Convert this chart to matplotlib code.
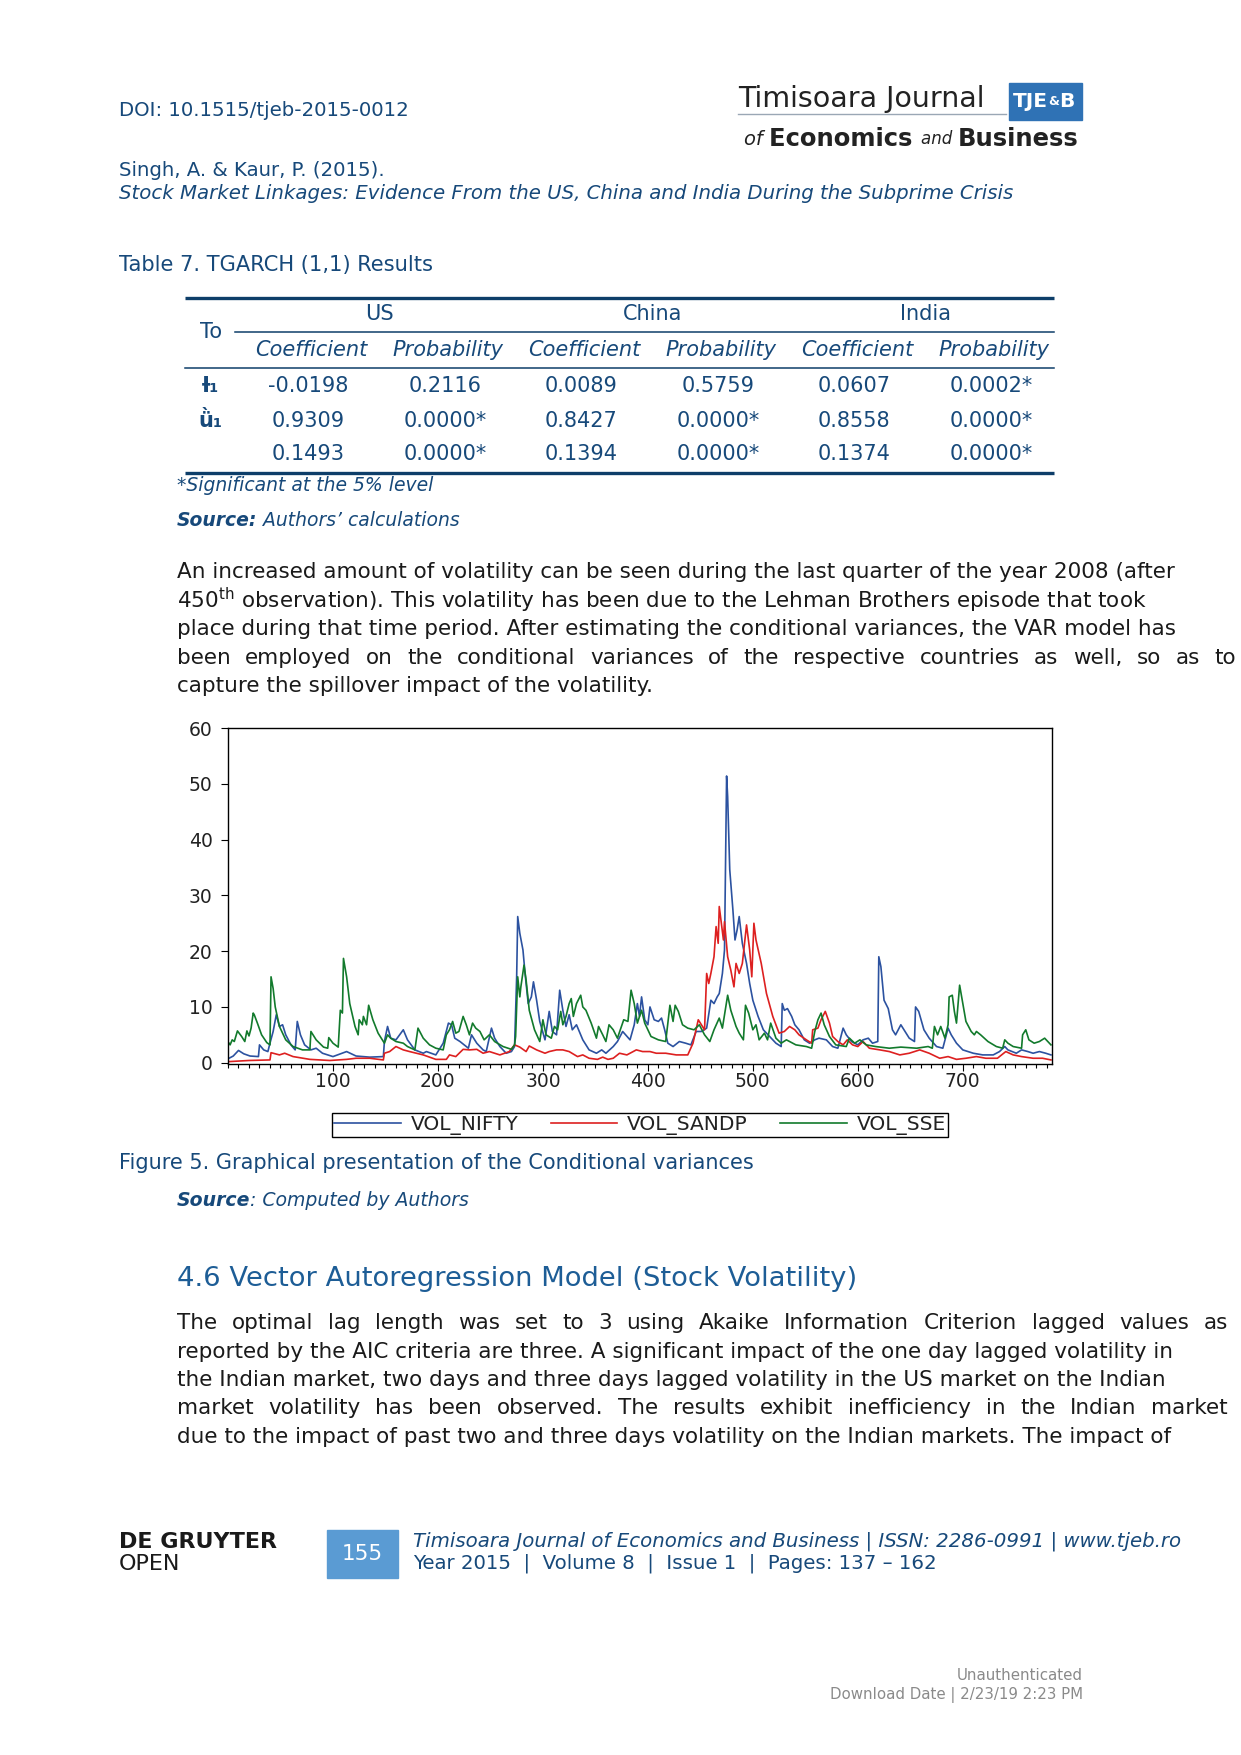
import matplotlib
matplotlib.use("Agg")
import matplotlib.pyplot as plt
from matplotlib.patches import Rectangle
from matplotlib.ticker import MultipleLocator
from matplotlib import font_manager

# ------------------- PAGE CONFIG -------------------
W, H = 1241, 1755
NAVY = '#17497a'
HEAD_BLUE = '#1d5d96'
available = {f.name for f in font_manager.fontManager.ttflist}
NARROW = 'Liberation Sans Narrow' if 'Liberation Sans Narrow' in available else 'DejaVu Sans'

# ------------------- TABLE DATA -------------------
countries = ['US', 'China', 'India']
sub_headers = ['Coefficient', 'Probability'] * 3
row_labels = ['Ɨ₁', 'ǜ₁', '']
table_rows = [
    ['-0.0198', '0.2116', '0.0089', '0.5759', '0.0607', '0.0002*'],
    ['0.9309', '0.0000*', '0.8427', '0.0000*', '0.8558', '0.0000*'],
    ['0.1493', '0.0000*', '0.1394', '0.0000*', '0.1374', '0.0000*'],
]

# ------------------- CHART DATA -------------------
nifty_obs = [1, 5, 10, 15, 21, 29, 30, 34, 38, 40, 43, 46, 49, 52, 55, 60, 64, 66, 69, 73,
             79, 84, 90, 100, 113, 122, 135, 148, 149, 152, 155, 160, 167, 171, 178, 186, 189, 198, 205, 210,
             213, 216, 221, 225, 229, 232, 237, 243, 246, 251, 254, 259, 265, 270, 273, 275, 276, 278, 281, 283,
             286, 289, 291, 294, 297, 302, 306, 309, 313, 316, 319, 322, 325, 328, 332, 338, 344, 351, 356, 360,
             367, 371, 376, 383, 387, 390, 392, 394, 397, 400, 402, 406, 410, 413, 416, 419, 424, 430, 436, 441,
             446, 451, 456, 460, 463, 466, 468, 471, 473, 475, 476, 478, 481, 483, 485, 487, 490, 494, 497, 500,
             505, 510, 516, 522, 527, 528, 530, 533, 537, 540, 544, 549, 554, 559, 563, 570, 576, 581, 586, 589,
             594, 600, 605, 610, 614, 619, 620, 622, 625, 629, 633, 636, 641, 644, 649, 654, 655, 658, 663, 668,
             675, 681, 686, 689, 694, 700, 710, 719, 729, 735, 740, 743, 751, 756, 762, 767, 773, 779, 784]
nifty_vals = [0.8, 1.2, 2.2, 1.6, 1.2, 1.1, 3.2, 2.3, 2.0, 3.5, 5.6, 8.6, 6.5, 6.8, 5.0, 3.2, 2.3, 7.4, 5.0, 3.2,
              2.3, 2.6, 1.7, 1.1, 2.0, 1.2, 1.0, 1.1, 3.8, 6.5, 4.4, 4.1, 5.9, 4.1, 2.3, 1.7, 2.0, 1.4, 3.5, 7.1,
              6.8, 4.4, 3.8, 3.2, 2.6, 5.0, 3.5, 2.3, 2.0, 6.2, 4.4, 2.9, 1.7, 2.0, 2.9, 15.4, 26.2, 23.2, 20.2, 16.0,
              10.6, 11.8, 14.5, 11.2, 7.4, 4.1, 9.2, 5.6, 5.0, 13.0, 9.4, 6.5, 8.6, 5.9, 6.8, 4.1, 2.3, 1.7, 2.3, 1.7,
              2.9, 3.8, 5.6, 4.1, 6.8, 10.6, 8.3, 11.8, 7.7, 6.8, 10.0, 7.7, 7.4, 8.0, 5.9, 3.5, 2.9, 3.8, 3.5, 3.2,
              5.6, 5.6, 6.2, 11.2, 10.6, 11.8, 12.4, 16.0, 20.2, 51.4, 47.7, 34.6, 27.4, 22.0, 23.8, 26.2, 21.4, 17.8, 14.2, 11.2,
              8.3, 5.9, 4.7, 3.5, 2.9, 10.6, 9.4, 9.7, 8.3, 6.8, 5.9, 4.1, 3.5, 4.1, 4.4, 4.1, 2.9, 2.6, 6.2, 5.0,
              3.8, 3.2, 4.1, 4.4, 3.5, 3.8, 19.0, 17.2, 11.2, 9.7, 5.9, 5.0, 6.8, 5.9, 4.4, 3.8, 10.0, 9.2, 5.9, 4.4,
              2.9, 2.6, 6.2, 5.0, 3.5, 2.3, 1.7, 1.4, 1.4, 2.0, 2.9, 2.3, 1.7, 2.3, 2.0, 1.7, 2.0, 1.7, 1.4]

sandp_obs = [1, 20, 40, 41, 49, 54, 62, 78, 97, 113, 122, 135, 148, 149, 154, 160, 167, 173, 186, 198,
             208, 211, 217, 224, 230, 237, 243, 249, 259, 268, 273, 278, 284, 287, 294, 302, 306, 313, 319, 325,
             333, 338, 344, 352, 357, 362, 367, 373, 380, 389, 395, 402, 408, 417, 427, 438, 443, 448, 451, 454,
             456, 458, 460, 463, 465, 467, 468, 470, 472, 473, 476, 479, 482, 484, 487, 490, 494, 497, 499, 501,
             503, 508, 513, 519, 525, 530, 535, 540, 544, 551, 556, 557, 562, 565, 569, 573, 576, 581, 586, 590,
             595, 600, 605, 611, 621, 630, 640, 649, 659, 668, 678, 686, 694, 703, 713, 722, 733, 741, 748, 756,
             767, 776, 784]
sandp_vals = [0.2, 0.4, 0.5, 1.8, 1.4, 1.7, 1.1, 0.6, 0.4, 0.6, 0.8, 0.8, 0.5, 1.7, 2.0, 2.9, 2.3, 2.0, 1.4, 0.6,
              0.6, 1.4, 1.1, 2.4, 2.3, 2.4, 1.7, 2.0, 1.4, 2.0, 3.2, 2.8, 2.0, 3.0, 2.3, 1.7, 2.0, 2.3, 2.3, 2.0,
              1.1, 1.4, 0.8, 0.6, 1.0, 0.6, 0.8, 1.7, 1.4, 2.3, 2.0, 2.0, 1.7, 1.7, 1.4, 1.4, 3.5, 7.7, 6.8, 5.9,
              16.0, 14.2, 16.0, 19.0, 24.4, 21.4, 28.0, 25.0, 22.0, 25.3, 19.0, 16.6, 13.6, 17.8, 16.0, 17.8, 24.7, 20.2, 15.4, 25.0,
              22.0, 17.8, 12.4, 8.3, 5.3, 5.6, 6.5, 5.9, 5.0, 4.1, 3.5, 5.9, 6.2, 7.7, 9.2, 7.1, 4.7, 3.8, 3.2, 4.1,
              3.2, 2.9, 3.8, 2.6, 2.3, 2.0, 1.4, 1.7, 2.3, 1.7, 0.8, 1.1, 0.6, 0.8, 1.1, 0.8, 0.8, 2.0, 1.4, 1.1,
              0.8, 0.8, 0.5]

sse_obs = [1, 2, 4, 6, 9, 13, 16, 18, 20, 22, 24, 25, 28, 32, 37, 40, 41, 43, 45, 49,
           55, 62, 71, 78, 79, 84, 91, 95, 96, 100, 105, 107, 109, 110, 113, 116, 121, 124, 125, 128,
           129, 132, 134, 138, 143, 149, 152, 155, 160, 167, 171, 178, 181, 186, 192, 198, 205, 208, 211, 214,
           217, 220, 224, 227, 230, 233, 236, 240, 244, 249, 254, 262, 270, 273, 274, 276, 278, 279, 282, 284,
           287, 292, 297, 300, 303, 308, 311, 314, 317, 319, 322, 325, 327, 329, 332, 336, 338, 341, 346, 351,
           353, 357, 360, 363, 367, 371, 377, 381, 384, 387, 390, 394, 397, 403, 410, 417, 421, 424, 426, 429,
           433, 438, 444, 449, 454, 459, 463, 468, 471, 476, 479, 484, 487, 491, 493, 496, 500, 503, 506, 511,
           514, 517, 522, 527, 532, 541, 551, 556, 559, 562, 565, 568, 573, 579, 589, 592, 597, 602, 608, 617,
           630, 641, 656, 667, 671, 673, 676, 679, 683, 686, 687, 690, 692, 694, 697, 700, 703, 708, 711, 713,
           717, 724, 732, 738, 740, 743, 748, 756, 757, 760, 763, 768, 773, 778, 781, 784]
sse_vals = [3.5, 3.2, 4.1, 3.8, 5.7, 4.7, 3.8, 5.7, 4.8, 6.2, 8.9, 8.6, 7.1, 5.0, 3.6, 3.2, 15.4, 13.3, 10.0, 6.5,
            4.1, 2.9, 2.3, 2.3, 5.6, 4.1, 2.8, 2.6, 4.5, 3.5, 2.8, 9.4, 8.9, 18.7, 15.4, 10.6, 6.5, 5.0, 7.7, 6.8,
            8.3, 6.8, 10.3, 7.7, 5.3, 3.5, 5.0, 4.4, 3.8, 3.5, 2.9, 2.3, 6.2, 4.4, 3.2, 2.6, 2.3, 5.0, 5.9, 7.4,
            5.3, 5.6, 8.3, 6.8, 5.0, 7.1, 6.2, 5.6, 4.1, 5.0, 3.8, 2.9, 2.4, 3.2, 4.7, 15.4, 11.8, 13.6, 17.5, 14.8,
            9.4, 5.9, 3.8, 7.7, 5.0, 4.4, 6.5, 5.9, 9.2, 6.8, 8.3, 10.6, 11.5, 8.3, 10.6, 12.1, 10.0, 9.4, 7.1, 4.4,
            6.5, 5.0, 3.8, 6.8, 5.9, 4.4, 7.7, 7.4, 13.0, 10.6, 7.1, 9.4, 7.1, 4.7, 4.1, 3.8, 10.3, 7.4, 10.3, 9.2,
            6.8, 6.2, 5.9, 6.8, 5.0, 3.8, 5.9, 8.0, 6.2, 12.1, 9.4, 6.5, 5.3, 4.1, 10.3, 8.9, 5.9, 6.8, 4.1, 5.3,
            4.1, 7.1, 4.4, 3.5, 4.1, 3.2, 2.9, 2.6, 5.6, 7.7, 8.9, 6.8, 4.7, 3.2, 2.9, 4.4, 3.5, 4.1, 3.2, 2.9,
            2.6, 2.8, 2.6, 2.9, 2.6, 6.5, 5.0, 6.5, 4.4, 6.8, 11.8, 12.1, 9.2, 7.1, 13.9, 10.6, 7.4, 5.6, 5.0, 5.6,
            5.0, 3.8, 2.9, 2.6, 4.1, 3.5, 2.9, 2.6, 5.0, 5.9, 4.1, 3.5, 3.8, 4.4, 3.8, 3.2]

series_names = ['VOL_NIFTY', 'VOL_SANDP', 'VOL_SSE']
series_colors = ['#2c52a0', '#dd2020', '#127a2c']
x_ticks = [100, 200, 300, 400, 500, 600, 700]
y_ticks = [0, 10, 20, 30, 40, 50, 60]

# ------------------- TEXT -------------------
para1 = [
    "An increased amount of volatility can be seen during the last quarter of the year 2008 (after",
    "450$^{\\mathrm{th}}$ observation). This volatility has been due to the Lehman Brothers episode that took",
    "place during that time period. After estimating the conditional variances, the VAR model has",
    "been employed on the conditional variances of the respective countries as well, so as to",
    "capture the spillover impact of the volatility.",
]
para1_justify = [False, False, False, True, False]
para2 = [
    "The optimal lag length was set to 3 using Akaike Information Criterion lagged values as",
    "reported by the AIC criteria are three. A significant impact of the one day lagged volatility in",
    "the Indian market, two days and three days lagged volatility in the US market on the Indian",
    "market volatility has been observed. The results exhibit inefficiency in the Indian market",
    "due to the impact of past two and three days volatility on the Indian markets. The impact of",
]
para2_justify = [True, False, False, True, False]

fig = plt.figure(figsize=(W / 100, H / 100), dpi=100)
page = fig.add_axes([0, 0, 1, 1])
page.set_xlim(0, W)
page.set_ylim(H, 0)
page.axis('off')
renderer = fig.canvas.get_renderer()


def runs(x, y, parts, **kw):
    """Draw consecutive text pieces with different styles on one line."""
    for txt, style in parts:
        t = page.text(x, y, txt, va='center', ha='left', **kw, **style)
        x += t.get_window_extent(renderer).width
    return x


def line_of_text(x0, x1, y, line, justify, **kw):
    if not justify:
        page.text(x0, y, line, va='center', ha='left', **kw)
        return
    words = line.split(' ')
    texts = [page.text(0, y, w, va='center', ha='left', **kw) for w in words]
    widths = [t.get_window_extent(renderer).width for t in texts]
    gap = (x1 - x0 - sum(widths)) / (len(words) - 1)
    x = x0
    for t, w in zip(texts, widths):
        t.set_x(x)
        x += w + gap


# ------------------- HEADER -------------------
page.text(119, 110, "DOI: 10.1515/tjeb-2015-0012", color=NAVY, fontsize=14.2, va='center')
page.text(119, 170, "Singh, A. & Kaur, P. (2015).", color=NAVY, fontsize=14.2, va='center')
page.text(119, 193, "Stock Market Linkages: Evidence From the US, China and India During the Subprime Crisis",
          color=NAVY, fontsize=14.2, style='italic', va='center')

# journal logo
page.text(738, 99, "Timisoara Journal", family=NARROW, fontsize=20.5, color='#222222', va='center')
page.plot([738, 1006], [114, 114], color='#9aa7b5', lw=1)
page.add_patch(Rectangle((1009, 83), 73, 37, color='#2f72b5'))
runs(1013, 101, [("TJE", dict(fontsize=14.5, weight='bold')),
                 ("&", dict(fontsize=9, weight='bold')),
                 ("B", dict(fontsize=14.5, weight='bold'))], family=NARROW, color='white')
runs(744, 139, [("of ", dict(fontsize=14, style='italic')),
                ("Economics ", dict(fontsize=17.5, weight='bold')),
                ("and ", dict(fontsize=12, style='italic')),
                ("Business", dict(fontsize=17.5, weight='bold'))], family=NARROW, color='#222222')

# ------------------- TABLE -------------------
page.text(119, 265, "Table 7. TGARCH (1,1) Results", color=NAVY, fontsize=15.1, va='center')
tcol = [311, 448, 584, 721, 857, 994]
trow = [386, 421, 454]
page.plot([185, 1054], [298, 298], color='#0e3e69', lw=2.4, solid_capstyle='butt')
page.plot([235, 1054], [332, 332], color='#0e3e69', lw=1.1)
page.plot([185, 1054], [368, 368], color='#0e3e69', lw=1.1)
page.plot([185, 1054], [473, 473], color='#0e3e69', lw=2.4, solid_capstyle='butt')
page.text(211, 332, "To", color=NAVY, fontsize=15, ha='center', va='center')
for i, c in enumerate(countries):
    page.text((tcol[2 * i] + tcol[2 * i + 1]) / 2, 314, c, color=NAVY, fontsize=15, ha='center', va='center')
for x, s in zip(tcol, sub_headers):
    page.text(x, 350, s, color=NAVY, fontsize=15, style='italic', ha='center', va='center')
for y, lab, row in zip(trow, row_labels, table_rows):
    page.text(210, y, lab, color=NAVY, fontsize=15, weight='bold', ha='center', va='center')
    for x, v in zip(tcol, row):
        page.text(x - 3, y, v, color=NAVY, fontsize=15, ha='center', va='center')
page.text(177, 485, "*Significant at the 5% level", color=NAVY, fontsize=13.5, style='italic', va='center')
runs(177, 521, [("Source:", dict(weight='bold', style='italic')),
                (" Authors’ calculations", dict(style='italic'))], color=NAVY, fontsize=13.5)

# ------------------- PARAGRAPH 1 -------------------
for i, (line, just) in enumerate(zip(para1, para1_justify)):
    line_of_text(177, 1236, 572 + i * 28.5, line, just, color='#1a1a1a', fontsize=15.5)

# ------------------- CHART -------------------
ax = fig.add_axes([228 / W, 1 - 1064 / H, (1052 - 228) / W, (1064 - 728) / H])
all_obs = [nifty_obs, sandp_obs, sse_obs]
all_vals = [nifty_vals, sandp_vals, sse_vals]
for obs, vals, name, col in zip(all_obs, all_vals, series_names, series_colors):
    ax.plot(obs, vals, color=col, lw=1.2, label=name)
ax.set_xlim(0, 785)
ax.set_ylim(-0.23, 60)
ax.set_xticks(x_ticks)
ax.set_yticks(y_ticks)
ax.xaxis.set_minor_locator(MultipleLocator(10))
ax.tick_params(axis='x', which='major', direction='out', length=5, width=0.8, pad=1, labelsize=13.5,
               labelcolor='#222222')
ax.tick_params(axis='x', which='minor', direction='out', length=3, width=0.8)
ax.tick_params(axis='y', which='major', direction='out', length=5, width=0.8, pad=6, labelsize=13.5,
               labelcolor='#222222')
for sp in ax.spines.values():
    sp.set_linewidth(1.0)
leg = ax.legend(loc='center', bbox_to_anchor=(640 / W, 1 - 1125 / H), bbox_transform=fig.transFigure,
                ncol=3, fontsize=14.5, frameon=True, fancybox=False, edgecolor='black', framealpha=1,
                handlelength=3.3, handletextpad=0.5, columnspacing=1.6, borderpad=0.1, borderaxespad=0,
                labelcolor='#222222')
leg.get_frame().set_linewidth(1.0)

page.text(119, 1163, "Figure 5. Graphical presentation of the Conditional variances", color=NAVY,
          fontsize=15, va='center')
runs(177, 1201, [("Source", dict(weight='bold', style='italic')),
                 (": Computed by Authors", dict(style='italic'))], color=NAVY, fontsize=13.6)

# ------------------- SECTION 4.6 -------------------
page.text(177, 1279, "4.6 Vector Autoregression Model (Stock Volatility)", color=HEAD_BLUE,
          fontsize=19.7, va='center')
for i, (line, just) in enumerate(zip(para2, para2_justify)):
    line_of_text(177, 1228, 1323 + i * 28.5, line, just, color='#1a1a1a', fontsize=15.5)

# ------------------- FOOTER -------------------
page.text(119, 1542, "DE GRUYTER", fontsize=16, weight='bold', color='#1a1a1a', va='center')
page.text(119, 1564, "OPEN", fontsize=16, color='#1a1a1a', va='center')
page.add_patch(Rectangle((327, 1530), 71, 48, color='#5a9bd3'))
page.text(362.5, 1554, "155", fontsize=15.5, color='white', ha='center', va='center')
page.text(413, 1541, "Timisoara Journal of Economics and Business | ISSN: 2286-0991 | www.tjeb.ro",
          fontsize=14.2, style='italic', color=NAVY, va='center')
page.text(413, 1563, "Year 2015  |  Volume 8  |  Issue 1  |  Pages: 137 – 162",
          fontsize=14.2, color=NAVY, va='center')
page.text(1083, 1675, "Unauthenticated", fontsize=10.8, color='#8a8a8a', ha='right', va='center')
page.text(1083, 1695, "Download Date | 2/23/19 2:23 PM", fontsize=10.8, color='#8a8a8a', ha='right', va='center')

plt.savefig('out.png', dpi=100)
plt.close()
